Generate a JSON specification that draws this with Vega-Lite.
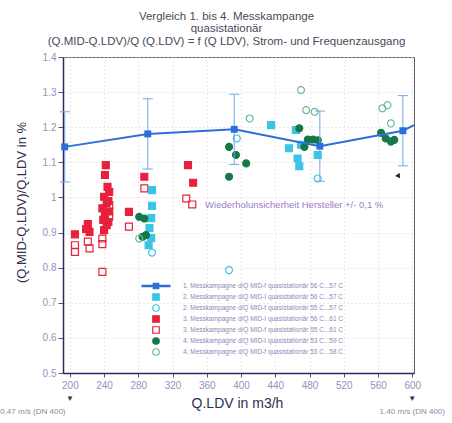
{
  "$schema": "https://vega.github.io/schema/vega-lite/v6.json",
  "width": 351,
  "height": 316,
  "autosize": {"type": "none"},
  "padding": {"left": 63, "top": 57, "right": 38, "bottom": 50},
  "background": "white",
  "title": {
    "text": ["Vergleich 1. bis 4. Messkampange", "quasistationär", "(Q.MID-Q.LDV)/Q (Q.LDV) = f (Q LDV), Strom- und Frequenzausgang"],
    "font": "Liberation Sans",
    "fontSize": 11.5,
    "fontWeight": "normal",
    "color": "#4a4a5a",
    "anchor": "middle",
    "dx": -12,
    "offset": 5,
    "lineHeight": 12.5
  },
  "config": {
    "font": "Liberation Sans",
    "view": {"stroke": "#606070", "strokeWidth": 1}
  },
  "datasets": {
    "leg": [
      {"k": 1, "serie": "1. Messkampagne d/Q MID-f quasistationär 56 C...57 C"},
      {"k": 2, "serie": "2. Messkampagne d/Q MID-I quasistationär 56 C...57 C"},
      {"k": 3, "serie": "2. Messkampagne d/Q MID-f quasistationär 55 C...57 C"},
      {"k": 4, "serie": "3. Messkampagne d/Q MID-I quasistationär 56 C...61 C"},
      {"k": 5, "serie": "3. Messkampagne d/Q MID-f quasistationär 55 C...61 C"},
      {"k": 6, "serie": "4. Messkampagne d/Q MID-I quasistationär 53 C...59 C"},
      {"k": 7, "serie": "4. Messkampagne d/Q MID-f quasistationär 53 C...58 C"}
    ],
    "pts": [
      {"k": 4, "x": 206, "y": 0.895}, {"k": 4, "x": 221, "y": 0.924}, {"k": 4, "x": 223, "y": 0.902}, {"k": 4, "x": 219, "y": 0.91},
      {"k": 4, "x": 242, "y": 1.092}, {"k": 4, "x": 241, "y": 1.064}, {"k": 4, "x": 244, "y": 1.03}, {"k": 4, "x": 246, "y": 1.016},
      {"k": 4, "x": 240, "y": 1.002}, {"k": 4, "x": 245, "y": 0.99}, {"k": 4, "x": 243, "y": 0.983}, {"k": 4, "x": 238, "y": 0.969},
      {"k": 4, "x": 246, "y": 0.96}, {"k": 4, "x": 241, "y": 0.95}, {"k": 4, "x": 239, "y": 0.936}, {"k": 4, "x": 243, "y": 0.921},
      {"k": 4, "x": 240, "y": 0.907}, {"k": 4, "x": 245, "y": 0.93}, {"k": 4, "x": 287, "y": 1.059}, {"k": 4, "x": 269, "y": 0.959},
      {"k": 4, "x": 338, "y": 1.092}, {"k": 4, "x": 344, "y": 1.042},
      {"k": 5, "x": 206, "y": 0.864}, {"k": 5, "x": 206, "y": 0.845}, {"k": 5, "x": 221, "y": 0.874}, {"k": 5, "x": 223, "y": 0.855},
      {"k": 5, "x": 238, "y": 0.883}, {"k": 5, "x": 238, "y": 0.867}, {"k": 5, "x": 246, "y": 0.978}, {"k": 5, "x": 246, "y": 0.945},
      {"k": 5, "x": 238, "y": 0.788}, {"k": 5, "x": 287, "y": 1.026}, {"k": 5, "x": 269, "y": 0.917}, {"k": 5, "x": 336, "y": 0.997},
      {"k": 5, "x": 343, "y": 0.98},
      {"k": 2, "x": 296, "y": 1.021}, {"k": 2, "x": 296, "y": 0.976}, {"k": 2, "x": 295, "y": 0.941}, {"k": 2, "x": 293, "y": 0.913},
      {"k": 2, "x": 295, "y": 0.884}, {"k": 2, "x": 292, "y": 0.864}, {"k": 2, "x": 435, "y": 1.206}, {"k": 2, "x": 456, "y": 1.14},
      {"k": 2, "x": 464, "y": 1.192}, {"k": 2, "x": 466, "y": 1.111}, {"k": 2, "x": 468, "y": 1.089}, {"k": 2, "x": 489.5, "y": 1.121},
      {"k": 2, "x": 470, "y": 1.15},
      {"k": 3, "x": 296, "y": 0.843}, {"k": 3, "x": 386, "y": 0.793}, {"k": 3, "x": 489.5, "y": 1.054}, {"k": 3, "x": 395, "y": 1.168},
      {"k": 6, "x": 281, "y": 0.945}, {"k": 6, "x": 287, "y": 0.94}, {"k": 6, "x": 289, "y": 0.893}, {"k": 6, "x": 285, "y": 0.888},
      {"k": 6, "x": 386, "y": 1.144}, {"k": 6, "x": 394, "y": 1.121}, {"k": 6, "x": 406, "y": 1.097}, {"k": 6, "x": 386, "y": 1.059},
      {"k": 6, "x": 468, "y": 1.197}, {"k": 6, "x": 478, "y": 1.165}, {"k": 6, "x": 484, "y": 1.165}, {"k": 6, "x": 489.6, "y": 1.163},
      {"k": 6, "x": 474, "y": 1.144}, {"k": 6, "x": 563.5, "y": 1.184}, {"k": 6, "x": 569, "y": 1.168}, {"k": 6, "x": 575, "y": 1.159},
      {"k": 6, "x": 579, "y": 1.164},
      {"k": 7, "x": 281, "y": 0.883}, {"k": 7, "x": 410, "y": 1.225}, {"k": 7, "x": 470, "y": 1.306}, {"k": 7, "x": 476, "y": 1.249},
      {"k": 7, "x": 486, "y": 1.244}, {"k": 7, "x": 565, "y": 1.254}, {"k": 7, "x": 571, "y": 1.263}, {"k": 7, "x": 575, "y": 1.211}
    ],
    "blue": [
      {"x": 194, "y": 1.144, "lo": 1.044, "hi": 1.244},
      {"x": 291, "y": 1.181, "lo": 1.081, "hi": 1.281},
      {"x": 392, "y": 1.194, "lo": 1.094, "hi": 1.294},
      {"x": 492, "y": 1.146, "lo": 1.046, "hi": 1.246},
      {"x": 589, "y": 1.19, "lo": 1.09, "hi": 1.29}
    ],
    "blueline": [
      {"x": 194, "y": 1.144}, {"x": 291, "y": 1.181}, {"x": 392, "y": 1.194}, {"x": 492, "y": 1.146}, {"x": 589, "y": 1.19}, {"x": 602, "y": 1.206}
    ],
    "notes": [
      {"x": 200, "y": 0.5, "t": "0.47 m/s (DN 400)"},
      {"x": 600, "y": 0.5, "t": "1.40 m/s (DN 400)"}
    ]
  },
  "encoding": {
    "x": {
      "field": "x", "type": "quantitative",
      "scale": {"domain": [192, 602], "nice": false, "zero": false},
      "axis": {
        "values": [200, 240, 280, 320, 360, 400, 440, 480, 520, 560, 600],
        "labelColor": "#9a90b8", "labelFontSize": 10, "labelPadding": 3,
        "tickSize": 4, "tickColor": "#555577",
        "domainColor": "#2a2a60", "domainWidth": 1.5,
        "grid": true, "gridColor": "#cfcfcf", "gridDash": [1, 3],
        "title": "Q.LDV in m3/h", "titleFontSize": 14, "titleFontWeight": "normal", "titleColor": "#2e2e50",
        "titleX": 174, "titleY": 30, "titleBaseline": "middle"
      }
    },
    "y": {
      "field": "y", "type": "quantitative",
      "scale": {"domain": [0.5, 1.4], "nice": false, "zero": false},
      "axis": {
        "values": [0.5, 0.6, 0.7, 0.8, 0.9, 1.0, 1.1, 1.2, 1.3, 1.4],
        "format": ".1~f",
        "labelColor": "#9a90b8", "labelFontSize": 10, "labelPadding": 2,
        "tickSize": 5, "tickColor": "#555577",
        "domainColor": "#2a2a60", "domainWidth": 1.5,
        "grid": true, "gridColor": "#d4d4d4", "gridDash": [1, 3],
        "title": "(Q.MID-Q.LDV)/Q.LDV in %", "titleFontSize": 13, "titleFontWeight": "normal", "titleColor": "#2e2e50",
        "titleX": -35, "titleY": 145
      }
    }
  },
  "layer": [
    {
      "data": {"name": "pts"},
      "transform": [{"lookup": "k", "from": {"data": {"name": "leg"}, "key": "k", "fields": ["serie"]}}],
      "mark": {"type": "point", "filled": true, "opacity": 1, "size": 48, "strokeWidth": 1.2},
      "encoding": {
        "shape": {
          "field": "serie", "type": "nominal",
          "scale": {
            "domain": ["1. Messkampagne d/Q MID-f quasistationär 56 C...57 C", "2. Messkampagne d/Q MID-I quasistationär 56 C...57 C", "2. Messkampagne d/Q MID-f quasistationär 55 C...57 C", "3. Messkampagne d/Q MID-I quasistationär 56 C...61 C", "3. Messkampagne d/Q MID-f quasistationär 55 C...61 C", "4. Messkampagne d/Q MID-I quasistationär 53 C...59 C", "4. Messkampagne d/Q MID-f quasistationär 53 C...58 C"],
            "range": ["M-4.3,-0.2L4.3,-0.2L4.3,0.2L-4.3,0.2Z M-0.85,-0.85L0.85,-0.85L0.85,0.85L-0.85,0.85Z", "square", "circle", "square", "square", "circle", "circle"]
          },
          "legend": {"orient": "none", "legendX": 89, "legendY": 225, "title": null, "padding": 0, "symbolSize": 42, "symbolStrokeWidth": 1.2, "labelFontSize": 6.5, "labelColor": "#9088b8", "labelOffset": 23, "rowPadding": -1, "labelLimit": 400}
        },
        "fill": {
          "field": "serie", "type": "nominal",
          "scale": {
            "domain": ["1. Messkampagne d/Q MID-f quasistationär 56 C...57 C", "2. Messkampagne d/Q MID-I quasistationär 56 C...57 C", "2. Messkampagne d/Q MID-f quasistationär 55 C...57 C", "3. Messkampagne d/Q MID-I quasistationär 56 C...61 C", "3. Messkampagne d/Q MID-f quasistationär 55 C...61 C", "4. Messkampagne d/Q MID-I quasistationär 53 C...59 C", "4. Messkampagne d/Q MID-f quasistationär 53 C...58 C"],
            "range": ["#2d6fd8", "#3cc4e6", "transparent", "#e8203c", "transparent", "#17774a", "transparent"]
          },
          "legend": {"orient": "none", "legendX": 89, "legendY": 225, "title": null, "padding": 0, "symbolSize": 42, "symbolStrokeWidth": 1.2, "labelFontSize": 6.5, "labelColor": "#9088b8", "labelOffset": 23, "rowPadding": -1, "labelLimit": 400}
        },
        "stroke": {
          "field": "serie", "type": "nominal",
          "scale": {
            "domain": ["1. Messkampagne d/Q MID-f quasistationär 56 C...57 C", "2. Messkampagne d/Q MID-I quasistationär 56 C...57 C", "2. Messkampagne d/Q MID-f quasistationär 55 C...57 C", "3. Messkampagne d/Q MID-I quasistationär 56 C...61 C", "3. Messkampagne d/Q MID-f quasistationär 55 C...61 C", "4. Messkampagne d/Q MID-I quasistationär 53 C...59 C", "4. Messkampagne d/Q MID-f quasistationär 53 C...58 C"],
            "range": ["#2d6fd8", "#3cc4e6", "#3cc4e6", "#e8203c", "#e8203c", "#17774a", "#6fb89a"]
          },
          "legend": {"orient": "none", "legendX": 89, "legendY": 225, "title": null, "padding": 0, "symbolSize": 42, "symbolStrokeWidth": 1.2, "labelFontSize": 6.5, "labelColor": "#9088b8", "labelOffset": 23, "rowPadding": -1, "labelLimit": 400}
        }
      }
    },
    {
      "data": {"name": "blue"},
      "mark": {"type": "rule", "color": "#6fa6e6", "strokeWidth": 1},
      "encoding": {
        "y": {"field": "lo", "type": "quantitative"},
        "y2": {"field": "hi"}
      }
    },
    {
      "data": {"name": "blue"},
      "transform": [{"fold": ["lo", "hi"], "as": ["end", "v"]}],
      "mark": {"type": "tick", "orient": "horizontal", "color": "#6fa6e6", "size": 10, "thickness": 1, "opacity": 1},
      "encoding": {
        "y": {"field": "v", "type": "quantitative"}
      }
    },
    {
      "data": {"name": "blueline"},
      "mark": {"type": "line", "color": "#2d6fd8", "strokeWidth": 2},
      "encoding": {}
    },
    {
      "data": {"name": "blue"},
      "mark": {"type": "point", "shape": "square", "filled": true, "opacity": 1, "size": 48, "color": "#2d6fd8"},
      "encoding": {}
    },
    {
      "data": {"values": [{"x": 358, "y": 0.978, "t": "Wiederholunsicherheit Hersteller +/- 0,1 %"}]},
      "mark": {"type": "text", "align": "left", "baseline": "middle", "fontSize": 9.5, "color": "#9a7cc4"},
      "encoding": {"text": {"field": "t"}}
    },
    {
      "data": {"values": [{"x": 584, "y": 1.064}]},
      "mark": {"type": "point", "shape": "triangle-up", "filled": true, "opacity": 1, "size": 30, "color": "#222222", "angle": 25},
      "encoding": {}
    },
    {
      "data": {"name": "notes"},
      "mark": {"type": "text", "text": "▼", "fontSize": 8, "color": "#333344", "dy": 26, "baseline": "middle"},
      "encoding": {}
    },
    {
      "data": {"name": "notes"},
      "transform": [{"filter": "datum.x < 400"}],
      "mark": {"type": "text", "fontSize": 8, "color": "#8a8aa0", "dy": 39, "dx": -37, "baseline": "middle"},
      "encoding": {"text": {"field": "t", "type": "nominal"}}
    },
    {
      "data": {"name": "notes"},
      "transform": [{"filter": "datum.x > 400"}],
      "mark": {"type": "text", "fontSize": 8, "color": "#8a8aa0", "dy": 39, "dx": 0, "baseline": "middle"},
      "encoding": {"text": {"field": "t", "type": "nominal"}}
    }
  ]
}
